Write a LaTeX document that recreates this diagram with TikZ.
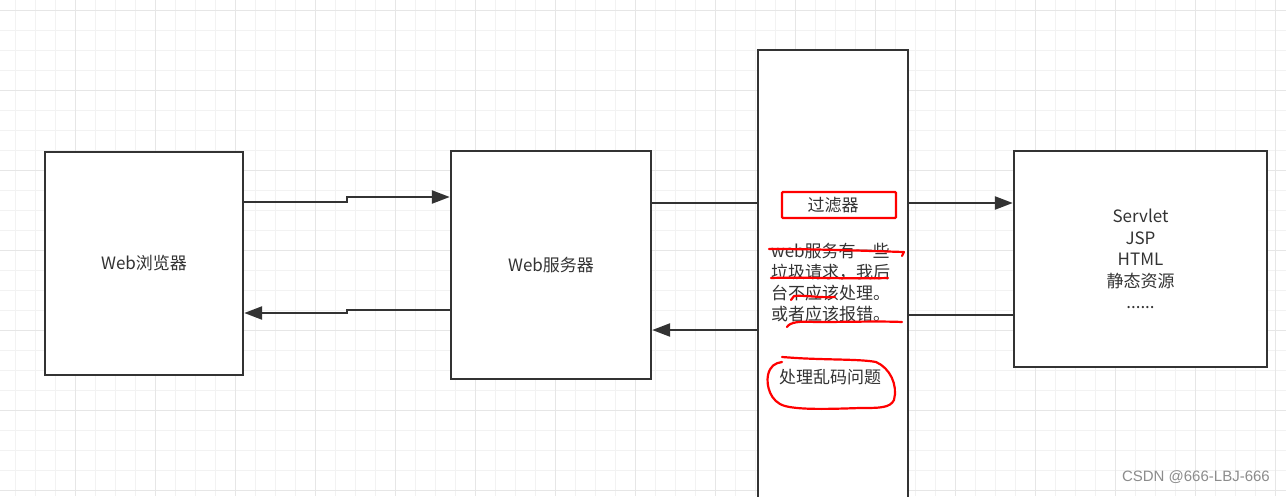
\documentclass[tikz,border=0pt]{standalone}
\usepackage{fontspec}
\setmainfont{Noto Sans CJK SC}
\newfontfamily\wmfont{Liberation Sans}
\usetikzlibrary{arrows.meta}
\definecolor{ink}{HTML}{333333}
\definecolor{txt}{HTML}{333333}
\definecolor{gridminor}{HTML}{F2F2F2}
\definecolor{gridmajor}{HTML}{E6E6E6}
\definecolor{mark}{HTML}{FF0000}
\begin{document}
\begin{tikzpicture}[x=1pt,y=-1pt,
  box/.style={draw=ink, line width=2.4pt, fill=white, text=txt, font=\fontsize{17}{21.5}\selectfont, inner sep=0pt},
  conn/.style={draw=ink, line width=2.4pt},
  tip/.style={-{Triangle[length=18pt,width=13pt]}},
  redmark/.style={draw=mark, line width=2.2pt, line cap=round, line join=round},
  ftext/.style={text=txt, font=\fontsize{17}{21}\selectfont, inner sep=0pt}]
\useasboundingbox (0,0) rectangle (1286,496);
\clip (0,0) rectangle (1286,496);
\fill[white] (0,0) rectangle (1286,496);
% grid
\foreach \x in {15,35,...,1295} \draw[gridminor, line width=1pt] (\x,0) -- (\x,496);
\foreach \y in {10,30,...,500} \draw[gridminor, line width=1pt] (0,\y) -- (1286,\y);
\foreach \x in {75,155,...,1295} \draw[gridmajor, line width=1pt] (\x,0) -- (\x,496);
\foreach \y in {10,90,...,500} \draw[gridmajor, line width=1pt] (0,\y) -- (1286,\y);
% boxes
\node[box, minimum width=198pt, minimum height=223pt] (browser) at (144,263.5) {Web浏览器};
\node[box, minimum width=200pt, minimum height=228pt] (server) at (551,265) {Web服务器};
\node[box, minimum width=150pt, minimum height=480pt] (filter) at (833,290) {};
\node[box, minimum width=253pt, minimum height=216pt, align=center] (res) at (1140.5,259)
  {Servlet\\JSP\\HTML\\静态资源\\......};
% row coordinates
\coordinate (r1) at (0,202);
\coordinate (r2) at (0,197);
\coordinate (r3) at (0,310);
\coordinate (r4) at (0,313);
\coordinate (r5) at (0,203);
\coordinate (r6) at (0,330);
\coordinate (r7) at (0,315);
\coordinate (s1) at (347,0);
% connectors
\draw[conn,tip] (browser.east |- r1) -- (s1 |- r1) -- (s1 |- r2) -- (server.west |- r2);
\draw[conn,tip] (server.west |- r3) -- (s1 |- r3) -- (s1 |- r4) -- (browser.east |- r4);
\draw[conn] (server.east |- r5) -- (filter.west |- r5);
\draw[conn,tip] (filter.west |- r6) -- (server.east |- r6);
\draw[conn,tip] (filter.east |- r5) -- (res.west |- r5);
\draw[conn] (res.west |- r7) -- (filter.east |- r7);
% filter texts
\node[draw=mark, line width=2.2pt, rounded corners=1pt, minimum width=114pt, minimum height=26pt, ftext] (title) at (839,205) {\hspace*{-12pt}过滤器};
\node[ftext, align=left, anchor=north west] (desc) at (771,243) {web服务有一些\\垃圾请求，我后\\台不应该处理。\\或者应该报错。};
\node[ftext, anchor=west] (garble) at (779,377) {处理乱码问题};
% red freehand marks
\draw[redmark] (769,249) .. controls (820,249) and (870,251) .. (904,252) -- (902,256);
\draw[redmark] (771,278) .. controls (800,277) and (850,279) .. (888,278);
\draw[redmark] (791,300) -- (794,296) .. controls (805,295) and (820,298) .. (835,297);
\draw[redmark] (787,327) .. controls (790,322) and (800,321) .. (815,322) .. controls (850,322) and (880,321) .. (902,322);
\draw[redmark] (782,357) -- (796,358) .. controls (830,360) and (860,359) .. (876,362)
  .. controls (890,368) and (898,385) .. (894,400)
  .. controls (890,408) and (880,408) .. (860,408)
  .. controls (830,409) and (800,410) .. (785,406)
  .. controls (770,402) and (766,385) .. (768,375)
  .. controls (770,366) and (775,363) .. (782,362);
% watermark
\node[anchor=east, text=black!45, font=\wmfont\fontsize{15}{18}\selectfont, inner sep=0pt] (wm) at (1270,477) {CSDN @666-LBJ-666};
\end{tikzpicture}
\end{document}
